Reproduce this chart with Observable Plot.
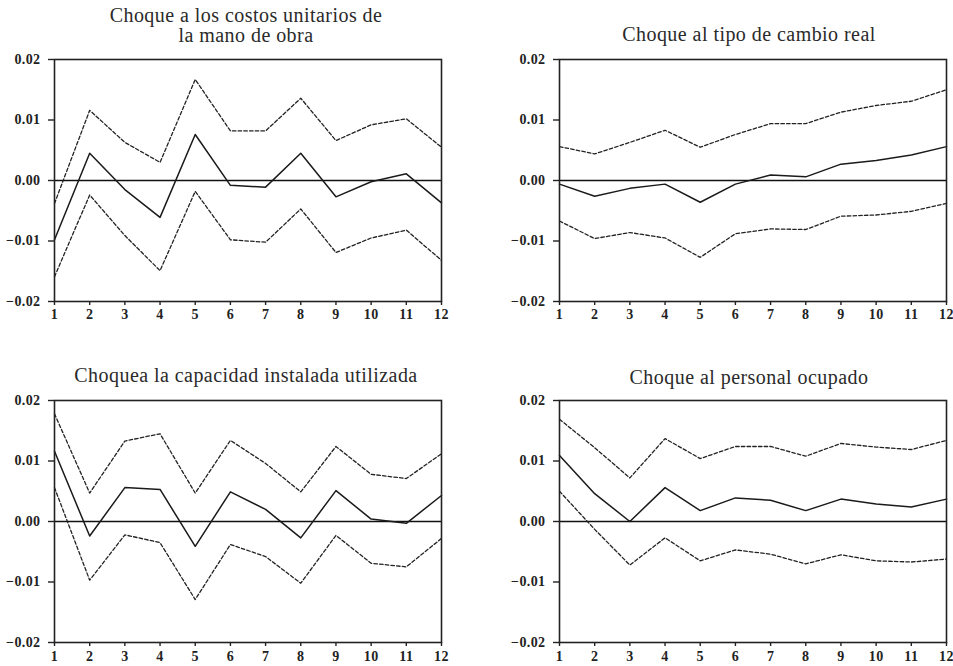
<!DOCTYPE html>
<html>
<head>
<meta charset="utf-8">
<script src="https://cdn.jsdelivr.net/npm/d3@7"></script>
<script src="https://cdn.jsdelivr.net/npm/@observablehq/plot@0.6"></script>
<style>
  html, body { margin: 0; padding: 0; background: #fff; }
  #wrap { position: relative; width: 953px; height: 666px; overflow: hidden; background: #fff; }
  .panel { position: absolute; }
  .title { position: absolute; font-family: "Liberation Serif", serif; font-size: 20px; letter-spacing: 0.45px; color: #2a2a2a;
           text-align: center; line-height: 20px; transform: translate(-50%, -50%); white-space: nowrap; }
</style>
</head>
<body>
<div id="wrap"></div>
<script>
// ---- data ----
const periods = [1,2,3,4,5,6,7,8,9,10,11,12];
const yTicks = [-0.02, -0.01, 0, 0.01, 0.02];
const titles = [
  "Choque a los costos unitarios de<br>la mano de obra",
  "Choque al tipo de cambio real",
  "Choquea la capacidad instalada utilizada",
  "Choque al personal ocupado"
];
// Panel 1: costos unitarios de la mano de obra
const clu_resp  = [-0.0098, 0.0045, -0.0015, -0.0061, 0.0076, -0.0008, -0.0011, 0.0045, -0.0027, -0.0002, 0.0011, -0.0037];
const clu_upper = [-0.0038, 0.0116, 0.0063, 0.0030, 0.0167, 0.0082, 0.0082, 0.0136, 0.0066, 0.0092, 0.0102, 0.0055];
const clu_lower = [-0.0159, -0.0024, -0.0091, -0.0149, -0.0018, -0.0098, -0.0102, -0.0047, -0.0119, -0.0095, -0.0082, -0.0132];
// Panel 2: tipo de cambio real
const tcr_resp  = [-0.0006, -0.0026, -0.0013, -0.0006, -0.0036, -0.0006, 0.0009, 0.0006, 0.0027, 0.0033, 0.0042, 0.0056];
const tcr_upper = [0.0056, 0.0044, 0.0063, 0.0083, 0.0055, 0.0076, 0.0094, 0.0094, 0.0113, 0.0124, 0.0131, 0.0150];
const tcr_lower = [-0.0067, -0.0096, -0.0086, -0.0095, -0.0127, -0.0088, -0.0080, -0.0081, -0.0059, -0.0057, -0.0051, -0.0038];
// Panel 3: capacidad instalada utilizada
const ciu_resp  = [0.0116, -0.0024, 0.0056, 0.0053, -0.0041, 0.0049, 0.0020, -0.0027, 0.0051, 0.0004, -0.0003, 0.0043];
const ciu_upper = [0.0178, 0.0047, 0.0133, 0.0145, 0.0047, 0.0134, 0.0096, 0.0049, 0.0124, 0.0078, 0.0071, 0.0112];
const ciu_lower = [0.0056, -0.0097, -0.0022, -0.0035, -0.0129, -0.0038, -0.0058, -0.0102, -0.0023, -0.0069, -0.0075, -0.0028];
// Panel 4: personal ocupado
const po_resp  = [0.0109, 0.0046, 0.0000, 0.0056, 0.0018, 0.0039, 0.0035, 0.0018, 0.0037, 0.0029, 0.0024, 0.0037];
const po_upper = [0.0169, 0.0122, 0.0072, 0.0137, 0.0104, 0.0124, 0.0124, 0.0108, 0.0129, 0.0123, 0.0119, 0.0134];
const po_lower = [0.0050, -0.0013, -0.0072, -0.0027, -0.0065, -0.0047, -0.0054, -0.0070, -0.0055, -0.0065, -0.0067, -0.0062];

const panels = [
  {resp: clu_resp, upper: clu_upper, lower: clu_lower, left: 0,   top: 0,   w: 476, h: 333, ml: 54, mr: 35, mt: 59, mb: 32, tx: 246, ty: 25, xp: 4},
  {resp: tcr_resp, upper: tcr_upper, lower: tcr_lower, left: 476, top: 0,   w: 477, h: 333, ml: 83, mr: 7,  mt: 59, mb: 32, tx: 749, ty: 34, xp: 4},
  {resp: ciu_resp, upper: ciu_upper, lower: ciu_lower, left: 0,   top: 333, w: 476, h: 333, ml: 54, mr: 35, mt: 67, mb: 24, tx: 246, ty: 375, xp: 5},
  {resp: po_resp,  upper: po_upper,  lower: po_lower,  left: 476, top: 333, w: 477, h: 333, ml: 83, mr: 7,  mt: 67, mb: 24, tx: 749, ty: 377, xp: 5}
];

const wrap = document.getElementById("wrap");
const fmt = d3.format(".2f");
const tickFont = {fontFamily: "Liberation Serif", fontSize: 14, fontWeight: "bold", fill: "#222"};

panels.forEach((p, i) => {
  const rows = (arr) => periods.map((t, k) => ({t, v: arr[k]}));
  const chart = Plot.plot({
    width: p.w,
    height: p.h,
    marginLeft: p.ml,
    marginRight: p.mr,
    marginTop: p.mt,
    marginBottom: p.mb,
    style: {fontFamily: "Liberation Serif", fontSize: "14px", fontWeight: "bold", color: "#222", background: "white", overflow: "visible", letterSpacing: "0.4px"},
    x: {domain: [1, 12]},
    y: {domain: [-0.02, 0.02]},
    marks: [
      Plot.ruleY([0], {stroke: "#111", strokeWidth: 1.3}),
      Plot.line(rows(p.upper), {x: "t", y: "v", stroke: "#222", strokeWidth: 1.3, strokeDasharray: "3.5,2.2"}),
      Plot.line(rows(p.lower), {x: "t", y: "v", stroke: "#222", strokeWidth: 1.3, strokeDasharray: "3.5,2.2"}),
      Plot.line(rows(p.resp), {x: "t", y: "v", stroke: "#1a1a1a", strokeWidth: 1.5}),
      Plot.frame({stroke: "#222", strokeWidth: 1.6}),
      Plot.axisY(yTicks, {tickSize: 6, tickPadding: 8, tickFormat: fmt, stroke: "#222", strokeWidth: 1.4, label: null, ...tickFont}),
      Plot.axisX(periods, {tickSize: 4, tickPadding: p.xp, tickFormat: d => d, stroke: "#222", strokeWidth: 1.4, label: null, ...tickFont})
    ]
  });
  chart.classList.add("panel");
  chart.style.left = p.left + "px";
  chart.style.top = p.top + "px";
  wrap.appendChild(chart);

  const t = document.createElement("div");
  t.className = "title";
  t.innerHTML = titles[i];
  t.style.left = p.tx + "px";
  t.style.top = p.ty + "px";
  wrap.appendChild(t);
});
</script>
</body>
</html>
